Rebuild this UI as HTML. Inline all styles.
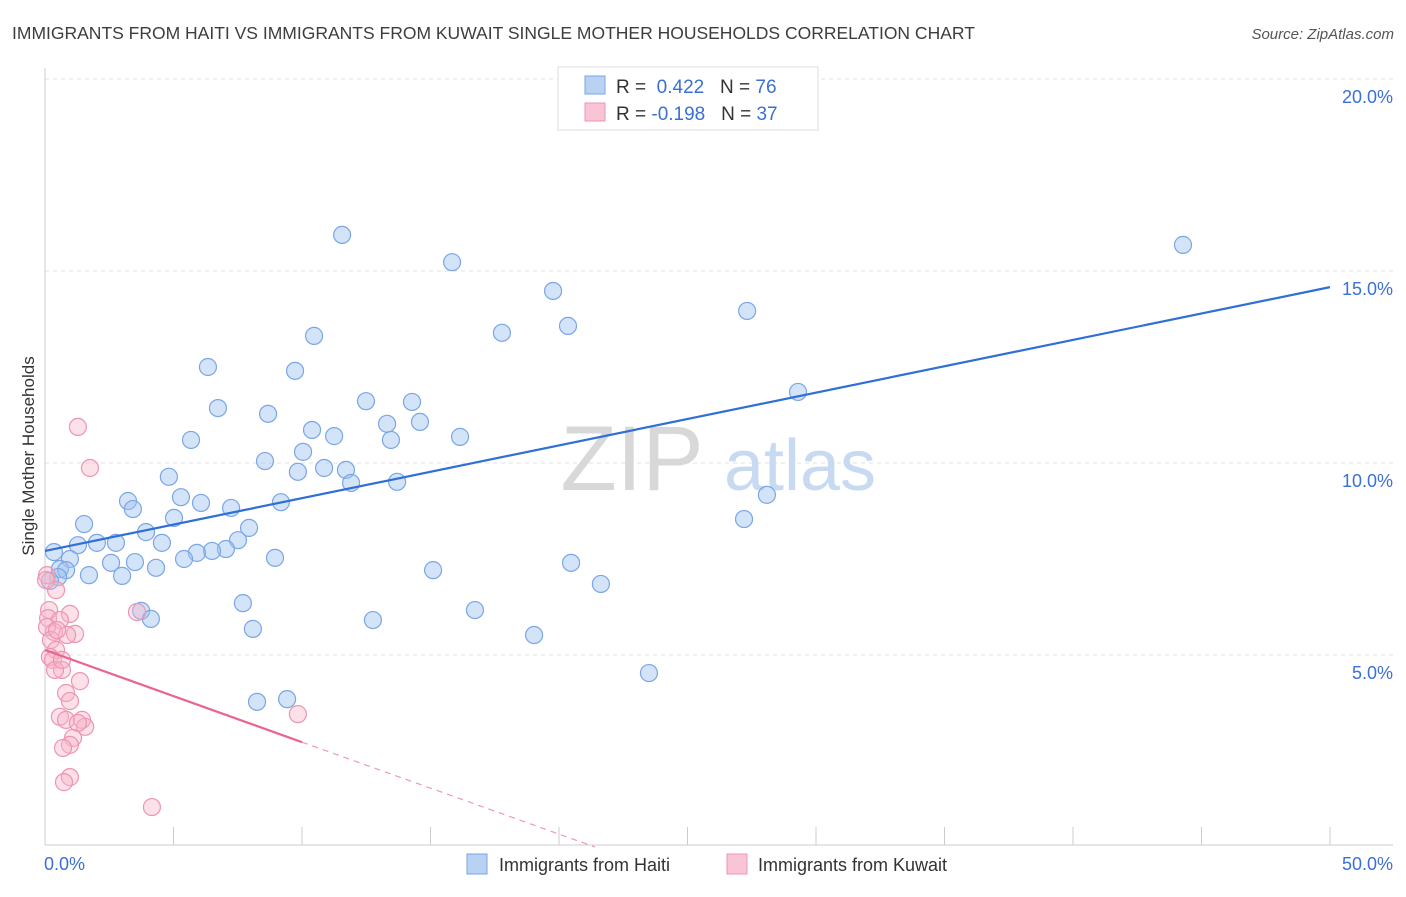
<!DOCTYPE html>
<html><head><meta charset="utf-8"><style>
body{margin:0;background:#fff;font-family:"Liberation Sans",sans-serif;}
svg text{font-family:"Liberation Sans",sans-serif;}
</style></head><body>
<svg id="chart" width="1406" height="892" xmlns="http://www.w3.org/2000/svg">
<text x="12" y="39" font-size="17.5" fill="#3d3d3d">IMMIGRANTS FROM HAITI VS IMMIGRANTS FROM KUWAIT SINGLE MOTHER HOUSEHOLDS CORRELATION CHART</text>
<text x="1394" y="39" font-size="15" fill="#555" font-style="italic" text-anchor="end">Source: ZipAtlas.com</text>
<g id="grid"></g>
<g>
<text x="632" y="490" font-size="92" fill="#d8d8d8" font-family="Liberation Serif" text-anchor="middle">ZIP</text>
<text x="800" y="490" font-size="72" fill="#c8daf2" text-anchor="middle">atlas</text>
</g>
<g id="axes"></g>
<g id="marks"></g>
<text transform="translate(34,456) rotate(-90)" font-size="17" fill="#333" text-anchor="middle">Single Mother Households</text>
<g>
<rect x="558" y="67" width="260" height="63" fill="#fff" stroke="#ddd"/>
<rect x="585" y="76" width="20" height="18" fill="#b9d2f3" stroke="#7aa5e6"/>
<rect x="585" y="103" width="20" height="18" fill="#f9c5d5" stroke="#ee94b1"/>
<text x="616" y="93" font-size="19" fill="#333">R = <tspan fill="#3a70d6">&#160;0.422</tspan>&#160;&#160;&#160;N = <tspan fill="#3a70d6">76</tspan></text>
<text x="616" y="120" font-size="19" fill="#333">R = <tspan fill="#3a70d6">-0.198</tspan>&#160;&#160;&#160;N = <tspan fill="#3a70d6">37</tspan></text>
</g>
<g>
<rect x="467" y="854" width="20" height="20" fill="#b9d2f3" stroke="#7aa5e6"/>
<text x="499" y="871" font-size="18" fill="#333">Immigrants from Haiti</text>
<rect x="727" y="854" width="20" height="20" fill="#f9c5d5" stroke="#ee94b1"/>
<text x="758" y="871" font-size="18" fill="#333">Immigrants from Kuwait</text>
</g>
</svg>
<script>
const xTicks=[0,5,10,15,20,25,30,35,40,45,50];
const yTicks=[5,10,15,20];
const yTickLabels=["5.0%","10.0%","15.0%","20.0%"];
const xEndLabels=["0.0%","50.0%"];
const haitiX=[11.56,15.84,44.28,19.77,27.32,20.35,17.78,10.47,6.34,9.73,29.3,12.49,14.28,6.73,8.68,13.31,14.59,10.39,5.68,11.25,16.15,13.46,10.04,8.56,10.86,9.84,11.71,4.82,11.91,13.7,5.29,3.23,28.09,6.07,9.18,3.42,7.24,5.02,27.2,1.52,7.94,3.93,7.51,2.02,2.76,1.28,4.55,7.04,0.35,6.5,5.91,5.41,8.95,0.97,2.57,3.5,4.32,20.47,15.1,0.58,0.82,1.71,3.0,0.51,21.63,7.7,3.74,16.73,4.12,12.76,8.09,19.03,23.5,8.25,9.42,0.19];
const haitiY=[15.94,15.23,15.68,14.48,13.96,13.57,13.39,13.31,12.5,12.4,11.85,11.61,11.59,11.43,11.28,11.02,11.07,10.86,10.6,10.7,10.68,10.6,10.29,10.05,9.87,9.77,9.82,9.64,9.48,9.51,9.11,9.01,9.17,8.96,8.98,8.8,8.83,8.57,8.54,8.41,8.31,8.2,7.99,7.92,7.92,7.86,7.92,7.76,7.68,7.71,7.66,7.5,7.53,7.5,7.4,7.42,7.27,7.4,7.21,7.24,7.21,7.08,7.06,7.03,6.85,6.35,6.15,6.17,5.94,5.91,5.68,5.52,4.53,3.78,3.85,6.93];
const kuwaitX=[1.28,1.75,0.08,0.43,0.16,0.97,3.58,0.12,0.58,0.35,1.17,0.08,0.86,0.23,0.43,0.19,0.31,0.66,0.39,1.36,0.82,0.97,0.58,0.82,1.44,1.56,1.28,1.09,9.84,0.97,0.7,0.97,0.74,4.16,0.04,0.47,0.66];
const kuwaitY=[10.94,9.87,7.08,6.69,6.17,6.07,6.12,5.96,5.91,5.6,5.55,5.73,5.52,5.39,5.13,4.95,4.87,4.61,4.61,4.32,4.01,3.8,3.39,3.31,3.31,3.13,3.23,2.84,3.46,2.66,2.58,1.82,1.69,1.04,6.95,5.65,4.87];
const haitiTrend=[[0,7.71],[50,14.58]];
const kuwaitTrend=[[0,5.13],[10,2.73]];
const kuwaitTrendExt=[[10,2.73],[21.4,0]];

const NS="http://www.w3.org/2000/svg";
const sx=v=>45+v*25.7, sy=v=>847-v*38.4;
function mk(tag,attrs,parent){const e=document.createElementNS(NS,tag);for(const k in attrs)e.setAttribute(k,attrs[k]);document.getElementById(parent).appendChild(e);return e;}
yTicks.forEach((t,i)=>{
 const l=mk('line',{x1:45,x2:1393,y1:sy(t),y2:sy(t),stroke:'#e2e2e2','stroke-dasharray':'4,4'},'grid');
 
 
 const tx=mk('text',{x:1393,y:sy(t)+24,'font-size':18,fill:'#3a70d6','text-anchor':'end'},'axes');
 tx.textContent=yTickLabels[i];
 
 
});
const ax=mk('line',{x1:45,x2:45,y1:68,y2:845,stroke:'#ccc'},'axes');


const bx=mk('line',{x1:45,x2:1393,y1:845,y2:845,stroke:'#ccc'},'axes');


xTicks.forEach(t=>{
 const l=mk('line',{x1:sx(t),x2:sx(t),y1:827,y2:845,stroke:'#ccc'},'axes');
 
 
});
[[0,'start',44],[50,'end',1393]].forEach((d,i)=>{
 const tx=mk('text',{x:d[2],y:870,'font-size':18,fill:'#3a70d6','text-anchor':d[1]},'axes');
 tx.textContent=xEndLabels[i];
 
 
});
haitiX.forEach((x,i)=>{
 const c=mk('circle',{cx:sx(x),cy:sy(haitiY[i]),r:8.5,fill:'rgba(160,196,240,0.45)',stroke:'#7aa5e6','stroke-width':1.2},'marks');
 
 
});
kuwaitX.forEach((x,i)=>{
 const c=mk('circle',{cx:sx(x),cy:sy(kuwaitY[i]),r:8.5,fill:'rgba(248,180,200,0.4)',stroke:'#ee94b1','stroke-width':1.2},'marks');
 
 
});
const bl=mk('line',{x1:sx(haitiTrend[0][0]),y1:sy(haitiTrend[0][1]),x2:sx(haitiTrend[1][0]),y2:sy(haitiTrend[1][1]),stroke:'#2f6fd6','stroke-width':2.2},'marks');


const pl=mk('line',{x1:sx(kuwaitTrend[0][0]),y1:sy(kuwaitTrend[0][1]),x2:sx(kuwaitTrend[1][0]),y2:sy(kuwaitTrend[1][1]),stroke:'#e8658f','stroke-width':2.2},'marks');


const pd=mk('line',{x1:sx(kuwaitTrendExt[0][0]),y1:sy(kuwaitTrendExt[0][1]),x2:sx(kuwaitTrendExt[1][0]),y2:sy(kuwaitTrendExt[1][1]),stroke:'#ef9ab5','stroke-width':1.2,'stroke-dasharray':'6,5'},'marks');


</script>
</body></html>
